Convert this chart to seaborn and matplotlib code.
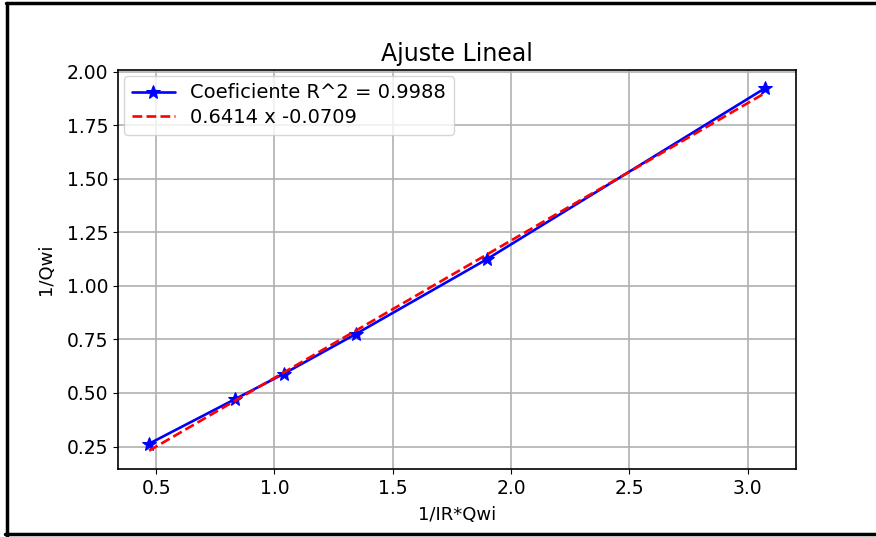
import numpy as np
import pandas as pd
import matplotlib
matplotlib.use('Agg')
import matplotlib.pyplot as plt
import seaborn as sns
from matplotlib.lines import Line2D

# datos
x_vals = [0.47, 0.835, 1.04, 1.345, 1.897, 3.075]
y_vals = [0.263, 0.472, 0.590, 0.776, 1.124, 1.924]
r2 = 0.9988
pendiente = 0.6414
intercepto = -0.0709

sns.set_style('ticks')
plt.rcParams['font.family'] = ['DejaVu Sans']
plt.rcParams['text.color'] = 'black'
plt.rcParams['axes.labelcolor'] = 'black'
plt.rcParams['xtick.color'] = 'black'
plt.rcParams['ytick.color'] = 'black'
plt.rcParams['axes.edgecolor'] = 'black'

df = pd.DataFrame({'x': x_vals, 'y': y_vals})
df['ajuste'] = pendiente * df['x'] + intercepto

fig, ax = plt.subplots(figsize=(8.76, 5.37), dpi=100)
fig.subplots_adjust(left=0.135, right=0.909, top=0.870, bottom=0.127)

sns.lineplot(data=df, x='x', y='y', ax=ax, color='blue', marker='*',
             markersize=10, markeredgecolor='blue', linewidth=1.9,
             label=f'Coeficiente R^2 = {r2}')
sns.lineplot(data=df, x='x', y='ajuste', ax=ax, color='red', linestyle='--',
             linewidth=1.9, label=f'{pendiente} x {intercepto}')

ax.set_title('Ajuste Lineal', fontsize=17, pad=6)
ax.set_xlabel('1/IR*Qwi', fontsize=13, labelpad=6)
ax.set_ylabel('1/Qwi', fontsize=13, labelpad=9)
ax.tick_params(labelsize=13.5)
ax.set_yticks([0.25, 0.5, 0.75, 1.0, 1.25, 1.5, 1.75, 2.0])
ax.grid(True, color='#b0b0b0', linewidth=1.2)
ax.legend(loc='upper left', fontsize=14, frameon=True,
          handlelength=2.2, borderaxespad=0.3, labelspacing=0.3)
for s in ax.spines.values():
    s.set_linewidth(1.2)

# marco negro de la captura
for xs, ys in [([0.0065, 1.0], [0.9935, 0.9935]),
               ([0.0075, 0.0075], [0.0, 0.995]),
               ([0.006, 1.0], [0.005, 0.005])]:
    fig.add_artist(Line2D(xs, ys, transform=fig.transFigure, color='black', linewidth=2.5))

plt.savefig('out.png', dpi=100)
